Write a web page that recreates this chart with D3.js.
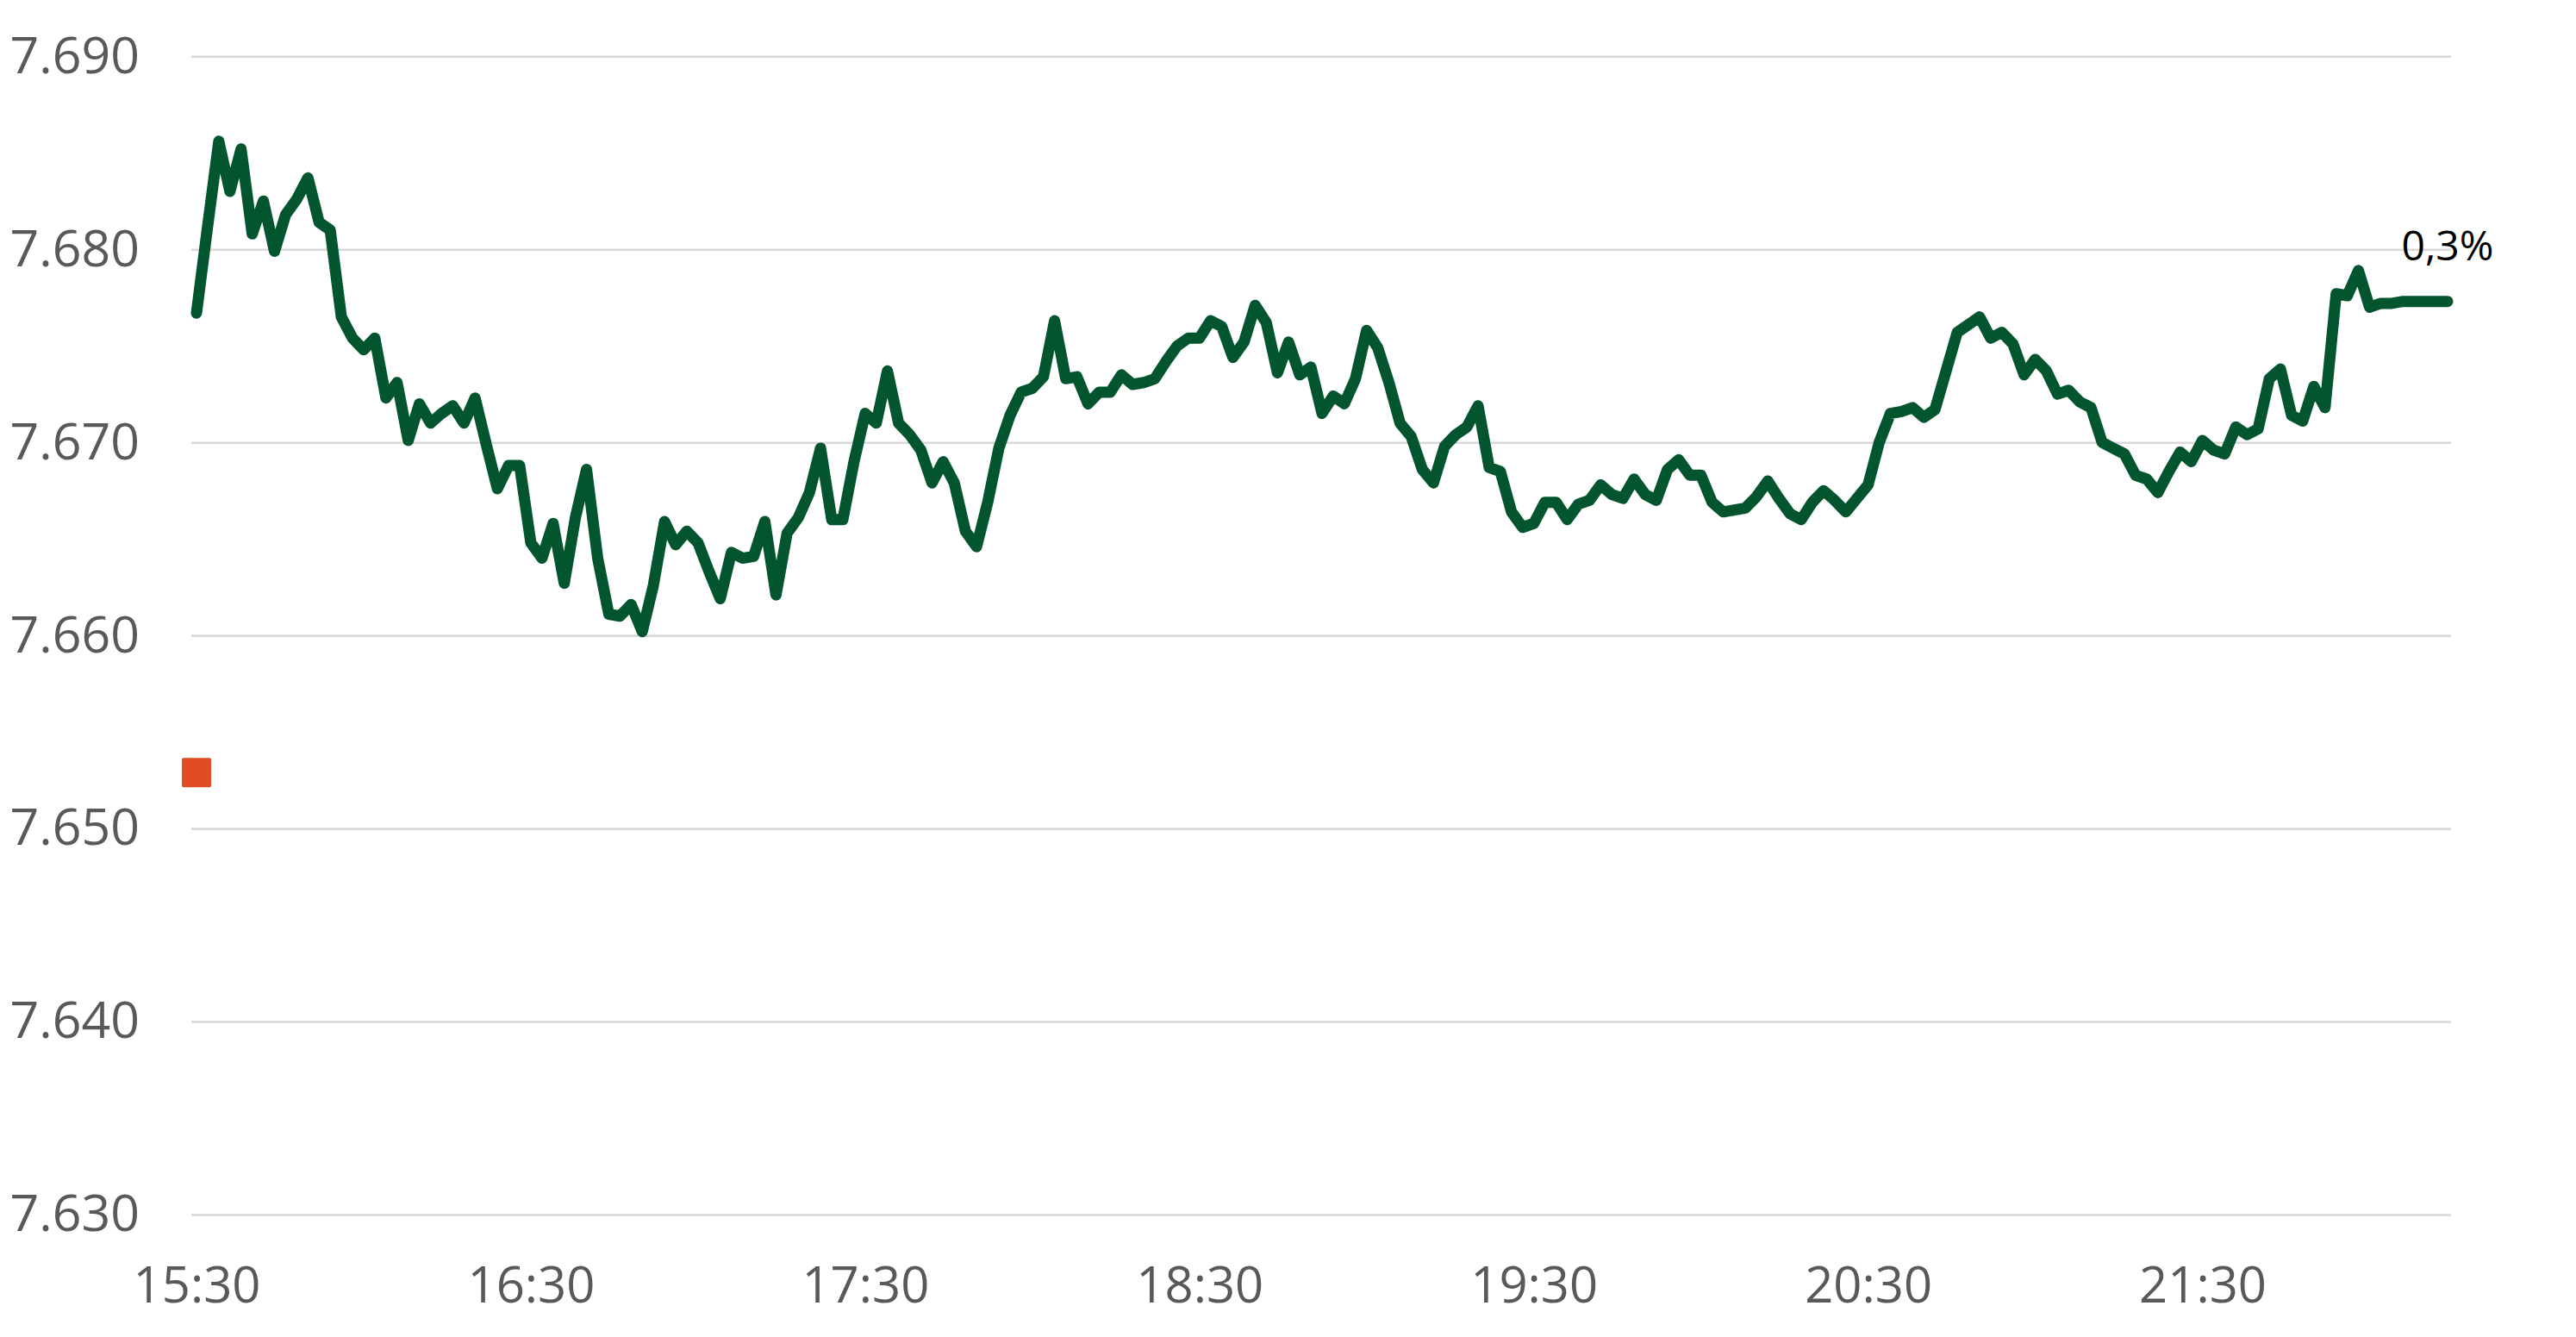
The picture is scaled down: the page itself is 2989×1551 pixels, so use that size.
<!DOCTYPE html>
<html>
<head>
<meta charset="utf-8">
<script src="https://cdn.jsdelivr.net/npm/d3@7"></script>
<style>
  html, body { margin: 0; padding: 0; background: #ffffff; }
  svg { display: block; }
</style>
</head>
<body>
<svg id="chart" width="2989" height="1551"></svg>
<script>
// ---------- DATA ----------
const startTime = [15, 30];          // first observation 15:30
const stepMinutes = 2;               // one point every 2 minutes
const values = [
  7.6767, 7.6812, 7.6856, 7.6830, 7.6852, 7.6808, 7.6825, 7.6799, 7.6818, 7.6826,
  7.6837, 7.6814, 7.6810, 7.6765, 7.6754, 7.6748, 7.6754, 7.6723, 7.6731, 7.6701,
  7.6720, 7.6710, 7.6715, 7.6719, 7.6710, 7.6723, 7.6699, 7.6676, 7.6688, 7.6688,
  7.6648, 7.6640, 7.6658, 7.6627, 7.6661, 7.6686, 7.6640, 7.6611, 7.6610, 7.6616,
  7.6602, 7.6626, 7.6659, 7.6647, 7.6654, 7.6648, 7.6633, 7.6619, 7.6643, 7.6640,
  7.6641, 7.6659, 7.6621, 7.6653, 7.6661, 7.6674, 7.6697, 7.6660, 7.6660, 7.6690,
  7.6715, 7.6710, 7.6737, 7.6710, 7.6704, 7.6696, 7.6679, 7.6690, 7.6679, 7.6654,
  7.6646, 7.6669, 7.6697, 7.6714, 7.6726, 7.6728, 7.6734, 7.6763, 7.6733, 7.6734,
  7.6720, 7.6726, 7.6726, 7.6735, 7.6730, 7.6731, 7.6733, 7.6742, 7.6750, 7.6754,
  7.6754, 7.6763, 7.6760, 7.6744, 7.6752, 7.6771, 7.6762, 7.6736, 7.6752, 7.6735,
  7.6739, 7.6715, 7.6724, 7.6720, 7.6733, 7.6758, 7.6749, 7.6731, 7.6710, 7.6703,
  7.6686, 7.6679, 7.6698, 7.6704, 7.6708, 7.6719, 7.6687, 7.6685, 7.6664, 7.6656,
  7.6658, 7.6669, 7.6669, 7.6660, 7.6668, 7.6670, 7.6678, 7.6673, 7.6671, 7.6681,
  7.6673, 7.6670, 7.6686, 7.6691, 7.6683, 7.6683, 7.6669, 7.6664, 7.6665, 7.6666,
  7.6672, 7.6680, 7.6671, 7.6663, 7.6660, 7.6669, 7.6675, 7.6670, 7.6664, 7.6671,
  7.6678, 7.6700, 7.6715, 7.6716, 7.6718, 7.6713, 7.6717, 7.6737, 7.6757, 7.6761,
  7.6765, 7.6754, 7.6757, 7.6751, 7.6735, 7.6743, 7.6737, 7.6725, 7.6727, 7.6721,
  7.6718, 7.6700, 7.6697, 7.6694, 7.6683, 7.6681, 7.6674, 7.6685, 7.6695, 7.6690,
  7.6701, 7.6696, 7.6694, 7.6708, 7.6704, 7.6707, 7.6733, 7.6738, 7.6714, 7.6711,
  7.6729, 7.6718, 7.6777, 7.6776, 7.6789, 7.6770, 7.6772, 7.6772, 7.6773, 7.6773,
  7.6773, 7.6773, 7.6773
];
const referenceValue = 7.6529;       // orange marker at 15:30
const endLabel = "0,3%";
const yTicks = [7.630, 7.640, 7.650, 7.660, 7.670, 7.680, 7.690];
const xTickLabels = ["15:30", "16:30", "17:30", "18:30", "19:30", "20:30", "21:30"];

// ---------- BUILD ----------
const base = new Date(2024, 0, 1, startTime[0], startTime[1]);
const toTime = i => new Date(base.getTime() + i * stepMinutes * 60000);
const series = values.map((v, i) => ({ t: toTime(i), v }));
const parseHM = s => { const [h, m] = s.split(":").map(Number); return new Date(2024, 0, 1, h, m); };
const xTicks = xTickLabels.map(parseHM);

const svg = d3.select("#chart");
const FONT = "'Open Sans', 'Noto Sans', sans-serif";

const gridLeft = 222, gridRight = 2844;
const x = d3.scaleTime()
  .domain([series[0].t, series[series.length - 1].t])
  .range([228, 2840]);
const y = d3.scaleLinear()
  .domain([7.630, 7.690])
  .range([1409, 65.3]);

// Y axis with gridlines
const yAxis = d3.axisLeft(y)
  .tickValues(yTicks)
  .tickFormat(d3.format(".3f"))
  .tickSize(-(gridRight - gridLeft))
  .tickPadding(60);
const gy = svg.append("g")
  .attr("transform", `translate(${gridLeft},0)`)
  .call(yAxis);
gy.select(".domain").remove();
gy.selectAll(".tick line").attr("stroke", "#d9d9d9").attr("stroke-width", 2.6);
gy.selectAll(".tick text")
  .attr("fill", "#595959")
  .style("font-family", FONT)
  .style("font-size", "59px");

// X axis labels
const xAxis = d3.axisBottom(x)
  .tickValues(xTicks)
  .tickFormat(d3.timeFormat("%H:%M"))
  .tickSize(0)
  .tickPadding(61);
const gx = svg.append("g")
  .attr("transform", `translate(0,${y(7.630)})`)
  .call(xAxis);
gx.select(".domain").remove();
gx.selectAll(".tick text")
  .attr("fill", "#595959")
  .style("font-family", FONT)
  .style("font-size", "58px");

// Orange reference marker
const sq = 34;
svg.append("rect")
  .datum({ t: series[0].t, v: referenceValue })
  .attr("x", d => x(d.t) - sq / 2)
  .attr("y", d => y(d.v) - sq / 2)
  .attr("width", sq)
  .attr("height", sq)
  .attr("rx", 2)
  .attr("fill", "#e04b24");

// Line
const line = d3.line().x(d => x(d.t)).y(d => y(d.v));
svg.append("path")
  .datum(series)
  .attr("d", line)
  .attr("fill", "none")
  .attr("stroke", "#03552f")
  .attr("stroke-width", 13)
  .attr("stroke-linejoin", "round")
  .attr("stroke-linecap", "round");

// End label
const last = series[series.length - 1];
svg.append("text")
  .attr("x", x(last.t))
  .attr("y", y(last.v) - 48)
  .attr("text-anchor", "middle")
  .attr("fill", "#000000")
  .style("font-family", FONT)
  .style("font-size", "48px")
  .text(endLabel);
</script>
</body>
</html>
